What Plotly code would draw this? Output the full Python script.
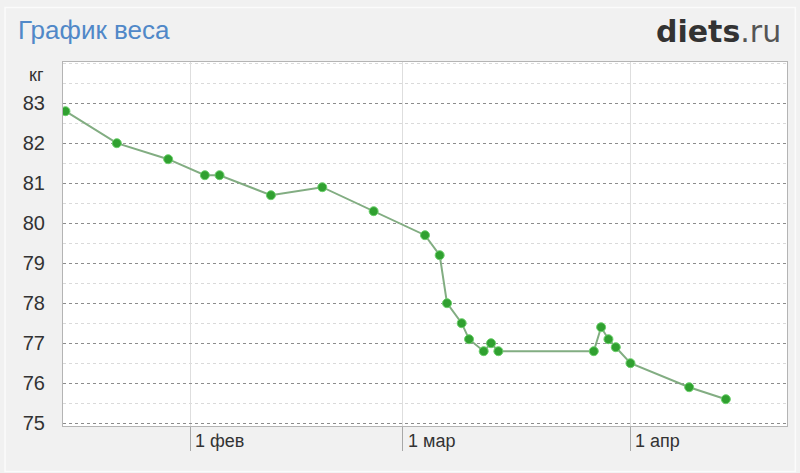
import plotly.graph_objects as go

dates = ['2012-01-15', '2012-01-22', '2012-01-29', '2012-02-03', '2012-02-05',
         '2012-02-12', '2012-02-19', '2012-02-26', '2012-03-04', '2012-03-06',
         '2012-03-07', '2012-03-09', '2012-03-10', '2012-03-12', '2012-03-13',
         '2012-03-14', '2012-03-27', '2012-03-28', '2012-03-29', '2012-03-30',
         '2012-04-01', '2012-04-09', '2012-04-14']
weights = [82.8, 82.0, 81.6, 81.2, 81.2,
           80.7, 80.9, 80.3, 79.7, 79.2,
           78.0, 77.5, 77.1, 76.8, 77.0,
           76.8, 76.8, 77.4, 77.1, 76.9,
           76.5, 75.9, 75.6]

month_ticks = ['2012-02-01', '2012-03-01', '2012-04-01']
month_labels = ['1 фев', '1 мар', '1 апр']
y_ticks = [75, 76, 77, 78, 79, 80, 81, 82, 83]
title_text = 'График веса'
unit_text = 'кг'

fig = go.Figure()
fig.add_trace(go.Scatter(
    x=dates, y=weights, mode='lines+markers',
    line=dict(color='#82ad82', width=2),
    marker=dict(size=9, color='#30a030', line=dict(color='#6cd06c', width=1)),
    hoverinfo='x+y', showlegend=False,
))

fig.update_layout(
    width=800, height=473,
    margin=dict(l=63, r=13, t=62, b=47),
    paper_bgcolor='#f1f1f1',
    plot_bgcolor='#ffffff',
    font=dict(family='Liberation Sans, Arial, sans-serif', color='#333333'),
    xaxis=dict(
        type='date',
        range=['2012-01-14 16:00', '2012-04-22 08:00'],
        tickvals=month_ticks,
        showticklabels=False,
        ticks='outside', ticklen=24, tickcolor='#a8a8a8', tickwidth=1,
        showgrid=True, gridcolor='#dedede', gridwidth=1,
        showline=True, linecolor='#b4b4b4', linewidth=1, mirror=True,
        zeroline=False, fixedrange=True,
    ),
    yaxis=dict(
        range=[74.93, 84.03],
        tickvals=y_ticks,
        ticks='', ticklabelstandoff=13,
        tickfont=dict(size=20, color='#333333'),
        showgrid=True, gridcolor='#8c8c8c', griddash='dot', gridwidth=1,
        minor=dict(dtick=0.5, tick0=0.5, showgrid=True, gridcolor='#dadada',
                   griddash='dot', gridwidth=1),
        showline=True, linecolor='#b4b4b4', linewidth=1, mirror=True,
        zeroline=False, fixedrange=True,
    ),
)

annotations = []
for t, lab in zip(month_ticks, month_labels):
    annotations.append(dict(x=t, y=0, xref='x', yref='paper', text=lab,
                            showarrow=False, xanchor='left', yanchor='middle',
                            xshift=3, yshift=-15,
                            font=dict(size=18, color='#333333')))
annotations.append(dict(x=0, y=1, xref='paper', yref='paper', text=unit_text,
                        showarrow=False, xanchor='right', yanchor='middle',
                        xshift=-17, yshift=-13,
                        font=dict(size=18, color='#333333')))
annotations.append(dict(x=-0.065, y=1.0, xref='paper', yref='paper', text=title_text,
                        showarrow=False, xanchor='left', yanchor='middle',
                        yshift=32,
                        font=dict(size=26, color='#5088c8',
                                  family='Liberation Sans, Arial, sans-serif')))
annotations.append(dict(x=1.0, y=1.0, xref='paper', yref='paper',
                        text='<b>diets</b><span style="color:#555555">.ru</span>',
                        showarrow=False, xanchor='right', yanchor='middle',
                        xshift=-4, yshift=31,
                        font=dict(size=30, color='#333333',
                                  family='DejaVu Sans, Verdana, sans-serif')))
fig.update_layout(annotations=annotations)

fig.add_shape(type='rect', xref='paper', yref='paper',
              x0=-0.08, x1=1.0115, y0=-0.125, y1=1.15,
              line=dict(color='#fbfbfb', width=1.5), layer='below')

fig.write_html('out.html', config={'displayModeBar': False},
               post_script="document.body.style.margin='0px';")
